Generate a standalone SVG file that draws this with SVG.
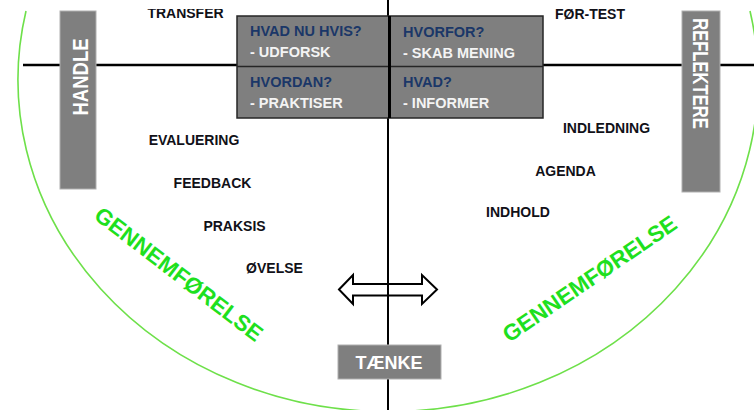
<svg xmlns="http://www.w3.org/2000/svg" width="754" height="410" viewBox="0 0 754 410">
  <style>
    .lbl { font-family: "Liberation Sans", Arial, sans-serif; font-weight: bold; font-size: 14px; fill: #111118; text-anchor: middle; }
    .q { font-family: "Liberation Sans", Arial, sans-serif; font-weight: bold; font-size: 14.5px; fill: #1b3768; }
    .a { font-family: "Liberation Sans", Arial, sans-serif; font-weight: bold; font-size: 14.5px; fill: #f4f4f4; }
    .side { fill: #7f7f7f; stroke: #b0b0b0; stroke-width: 1; }
    .sidetxt { font-family: "Liberation Sans", Arial, sans-serif; font-weight: bold; fill: #ffffff; text-anchor: middle; }
    .green { font-family: "Liberation Sans", Arial, sans-serif; font-weight: bold; font-size: 22.5px; fill: #1ee01e; text-anchor: middle; }
    .line { stroke: #000; fill: none; }
  </style>
  <defs>
    <clipPath id="topcut"><rect x="0" y="9" width="754" height="401"/></clipPath>
  </defs>
  <rect width="754" height="410" fill="#ffffff"/>

  <g id="arc">
    <path d="M26,11 A370,332 0 1 0 750,11" fill="none" stroke="#6ee04a" stroke-width="1.6"/>
  </g>

  <g id="connectors">
    <path class="line" d="M23,65 H754" stroke-width="2.5"/>
    <polygon points="339,289.5 353,275 353,284 422,284 422,275 437,289.5 422,304 422,295.5 353,295.5 353,304" fill="#ffffff" stroke="#000" stroke-width="2" stroke-linejoin="miter"/>
    <path class="line" d="M388,0 V410" stroke-width="2"/>
  </g>

  <g id="handle">
    <rect class="side" x="60" y="11" width="36" height="178"/>
    <text class="sidetxt" font-size="18.5" transform="translate(80,77) rotate(-90) scale(1,1.2)" y="6.6">HANDLE</text>
  </g>

  <g id="reflektere">
    <rect class="side" x="682" y="11" width="38" height="181"/>
    <text class="sidetxt" font-size="16.6" transform="translate(701,73.5) rotate(90) scale(1,1.35)" y="5.9">REFLEKTERE</text>
  </g>

  <g id="taenke">
    <rect class="side" x="338" y="345" width="103" height="34"/>
    <text class="sidetxt" font-size="18" x="389" y="369">TÆNKE</text>
  </g>

  <g id="grid">
    <rect x="237" y="16" width="306" height="102" fill="#7f7f7f" stroke="#262626" stroke-width="1.5"/>
    <path d="M237,66.5 H543" stroke="#262626" stroke-width="1.5"/>
    <path d="M389.5,16 V118" stroke="#000" stroke-width="3"/>
  </g>

  <g id="cell-hvad-nu-hvis">
    <text class="q" x="250" y="36">HVAD NU HVIS?</text>
    <text class="a" x="250" y="57">- UDFORSK</text>
  </g>
  <g id="cell-hvorfor">
    <text class="q" x="403" y="37">HVORFOR?</text>
    <text class="a" x="403" y="58">- SKAB MENING</text>
  </g>
  <g id="cell-hvordan">
    <text class="q" x="250" y="87">HVORDAN?</text>
    <text class="a" x="250" y="108">- PRAKTISER</text>
  </g>
  <g id="cell-hvad">
    <text class="q" x="403" y="87">HVAD?</text>
    <text class="a" x="403" y="108">- INFORMER</text>
  </g>

  <g id="transfer" clip-path="url(#topcut)"><text class="lbl" x="185.5" y="18">TRANSFER</text></g>
  <g id="foer-test" clip-path="url(#topcut)"><text class="lbl" x="590" y="19">FØR-TEST</text></g>
  <g id="evaluering"><text class="lbl" x="194" y="145">EVALUERING</text></g>
  <g id="feedback"><text class="lbl" x="212.5" y="188">FEEDBACK</text></g>
  <g id="praksis"><text class="lbl" x="234.5" y="231">PRAKSIS</text></g>
  <g id="oevelse"><text class="lbl" x="274.5" y="272.5">ØVELSE</text></g>
  <g id="indledning"><text class="lbl" x="606.5" y="133">INDLEDNING</text></g>
  <g id="agenda"><text class="lbl" x="565.5" y="175.5">AGENDA</text></g>
  <g id="indhold"><text class="lbl" x="518" y="217">INDHOLD</text></g>

  <g id="gennemfoerelse-left">
    <text class="green" transform="translate(179,274) rotate(37.5)" y="8">GENNEMFØRELSE</text>
  </g>
  <g id="gennemfoerelse-right">
    <text class="green" transform="translate(589.5,278.5) rotate(-34.3)" y="8">GENNEMFØRELSE</text>
  </g>
</svg>
